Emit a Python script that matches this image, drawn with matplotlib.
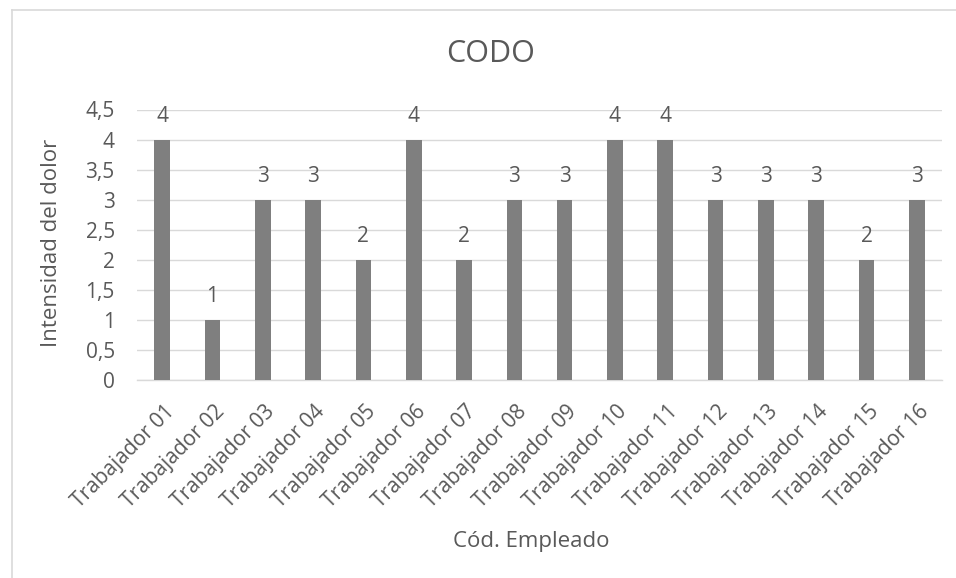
import matplotlib
matplotlib.use("Agg")
import matplotlib.pyplot as plt
from matplotlib.lines import Line2D
from matplotlib.transforms import ScaledTranslation

categories = ["Trabajador %02d" % i for i in range(1, 17)]
values = [4, 1, 3, 3, 2, 4, 2, 3, 3, 4, 4, 3, 3, 3, 2, 3]
yticks = [0, 0.5, 1, 1.5, 2, 2.5, 3, 3.5, 4, 4.5]
ytick_labels = ["0", "0,5", "1", "1,5", "2", "2,5", "3", "3,5", "4", "4,5"]
title = "CODO"
xlabel = "Cód. Empleado"
ylabel = "Intensidad del dolor"

plt.rcParams['font.family'] = ['Open Sans', 'DejaVu Sans']
txt = "#595959"
grid = "#d9d9d9"
bar_c = "#7f7f7f"

W, H = 956, 578
fig = plt.figure(figsize=(W / 100, H / 100), dpi=100)
ax = fig.add_axes([137 / W, (H - 380) / H, (942 - 137) / W, (380 - 109.5) / H])

x = list(range(len(categories)))
ax.bar(x, values, width=0.31, color=bar_c, zorder=3)
ax.set_xlim(-0.5, len(categories) - 0.5)
ax.set_ylim(0, 4.5)
ax.set_yticks(yticks)
ax.set_yticklabels(ytick_labels)
ax.yaxis.grid(True, color=grid, linewidth=1.0, zorder=0)
ax.set_axisbelow(True)
for s in ["top", "right", "left"]:
    ax.spines[s].set_visible(False)
ax.spines["bottom"].set_color(grid)
ax.spines["bottom"].set_linewidth(1.0)
ax.tick_params(axis="both", length=0, colors=txt, labelsize=15)
ax.tick_params(axis="y", pad=16)
ax.set_xticks(x)
ax.set_xticklabels(categories, rotation=45, ha="right", va="center", rotation_mode="anchor")
off = ScaledTranslation(9 / 100, -24 / 100, fig.dpi_scale_trans)
for lab in ax.get_xticklabels():
    lab.set_transform(lab.get_transform() + off)

for xi, v in zip(x, values):
    ax.annotate(str(v), (xi, v), xytext=(0, 16.5), textcoords="offset points",
                ha="center", va="center", color=txt, fontsize=15)

fig.text(491 / W, 1 - 54 / H, title, ha="center", va="center", fontsize=22, color=txt)
fig.text(52 / W, 1 - 243 / H, ylabel, ha="center", va="center", rotation=90, fontsize=16, color=txt)
fig.text(531 / W, 1 - 542 / H, xlabel, ha="center", va="center", fontsize=16, color=txt)

# chart frame
fig.add_artist(Line2D([12 / W, 12 / W], [0, 1 - 10 / H], transform=fig.transFigure, color=grid, linewidth=1.2))
fig.add_artist(Line2D([12 / W, 1], [1 - 10 / H, 1 - 10 / H], transform=fig.transFigure, color=grid, linewidth=1.2))

fig.savefig("out.png", dpi=100)
